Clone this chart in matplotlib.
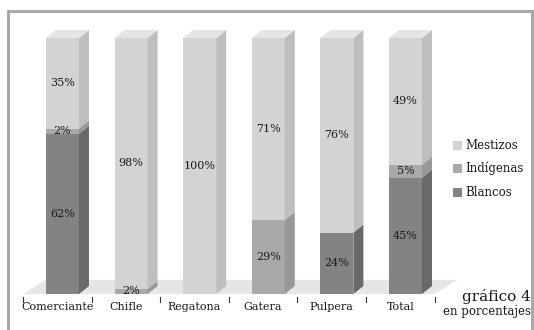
import matplotlib
matplotlib.use("Agg")
import matplotlib.pyplot as plt
from matplotlib.patches import Polygon, Rectangle

categories = ["Comerciante", "Chifle", "Regatona", "Gatera", "Pulpera", "Total"]
series_names = ["Blancos", "Indígenas", "Mestizos"]
blancos = [62, 0, 0, 0, 24, 45]
indigenas = [2, 2, 0, 29, 0, 5]
mestizos = [35, 98, 100, 71, 76, 49]

front_colors = {"Blancos": "#838385", "Indígenas": "#a9a9ab", "Mestizos": "#d3d3d5"}
side_colors = {"Blancos": "#69696b", "Indígenas": "#98989a", "Mestizos": "#bebec0"}
top_colors = {"Blancos": "#9a9a9c", "Indígenas": "#bdbdbf", "Mestizos": "#e5e5e6"}

FONT = "DejaVu Serif"
W, H = 534, 330
fig = plt.figure(figsize=(W / 100, H / 100), dpi=100)
ax = fig.add_axes([0, 0, 1, 1])
ax.set_xlim(-0.835, 6.949)
ax.set_ylim(-14.06, 114.84)
ax.axis("off")

# bar geometry in data units
x0, bw = -0.165, 0.481
dx, dy = 0.146, 3.1

# floor
fdx, fdy = 0.335, 5.5
n = len(categories)
ax.add_patch(Polygon([(-0.5, 0), (n - 0.5, 0), (n - 0.5 + fdx, fdy), (-0.5 + fdx, fdy)],
                     closed=True, facecolor="#e6e6e7", edgecolor="none", zorder=1))

series = {"Blancos": blancos, "Indígenas": indigenas, "Mestizos": mestizos}
for i in range(n):
    vals = [series[s][i] for s in series_names]
    total = sum(vals)
    left = i + x0
    right = left + bw
    base = 0.0
    for s, v in zip(series_names, vals):
        if v <= 0:
            continue
        h = 100.0 * v / total
        top = base + h
        ax.add_patch(Polygon([(left, base), (right, base), (right, top), (left, top)],
                             closed=True, facecolor=front_colors[s], edgecolor="none", zorder=3))
        ax.add_patch(Polygon([(right, base), (right + dx, base + dy), (right + dx, top + dy), (right, top)],
                             closed=True, facecolor=side_colors[s], edgecolor="none", zorder=3))
        ax.text((left + right) / 2, base + h / 2, f"{v}%", ha="center", va="center",
                fontsize=8, family=FONT, color="#1a1a1a", zorder=5)
        last = s
        base = top
    ax.add_patch(Polygon([(left, base), (right, base), (right + dx, base + dy), (left + dx, base + dy)],
                         closed=True, facecolor=top_colors[last], edgecolor="none", zorder=3))

# category ticks and labels
for i in range(n + 1):
    ax.plot([i - 0.5, i - 0.5], [-1.2, -3.2], color="#333333", lw=0.8, zorder=4)
for i, c in enumerate(categories):
    ax.text(i, -5.0, c, ha="center", va="center", fontsize=8, family=FONT, color="#1a1a1a")

# legend
for k, s in enumerate(reversed(series_names)):
    yc = 145 + 23.5 * k
    fig.patches.append(Rectangle((453 / W, 1 - (yc + 4.5) / H), 9 / W, 9 / H,
                                 transform=fig.transFigure, facecolor=front_colors[s],
                                 edgecolor="none"))
    fig.text(465 / W, 1 - yc / H, s, ha="left", va="center", fontsize=8.5,
             family=FONT, color="#1a1a1a")

fig.text(531 / W, 1 - 297 / H, "gráfico 4", ha="right", va="center", fontsize=11,
         family=FONT, color="#1a1a1a")
fig.text(531 / W, 1 - 311 / H, "en porcentajes", ha="right", va="center", fontsize=8.5,
         family=FONT, color="#1a1a1a")

# outer frame, open at the bottom edge of the canvas
fig.patches.append(Rectangle((8 / W, -0.3), 524 / W, 1.3 - 11 / H,
                             transform=fig.transFigure, facecolor="none",
                             edgecolor="#a8a8a8", linewidth=2.2, clip_on=False))

fig.savefig("out.png", dpi=100, facecolor="white")
